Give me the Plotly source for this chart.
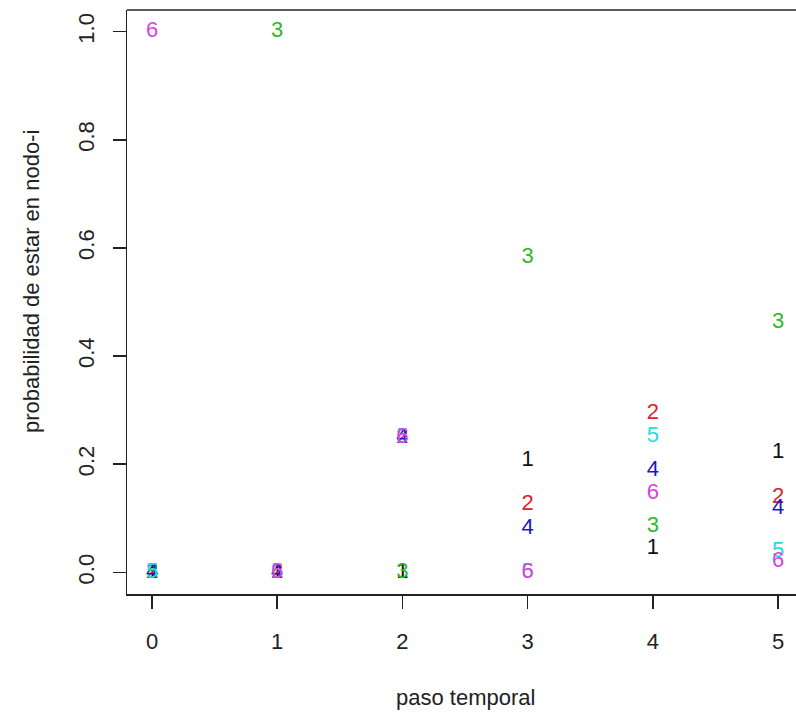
import plotly.graph_objects as go

# time steps
pasos = [0, 1, 2, 3, 4, 5]

# probability of being at each node, per time step
nodo1 = [0.0, 0.0, 0.0, 0.207, 0.044, 0.222]
nodo2 = [0.0, 0.0, 0.25, 0.126, 0.294, 0.139]
nodo3 = [0.0, 1.0, 0.0, 0.582, 0.085, 0.462]
nodo4 = [0.0, 0.0, 0.25, 0.081, 0.189, 0.118]
nodo5 = [0.0, 0.0, 0.25, 0.0, 0.251, 0.039]
nodo6 = [1.0, 0.0, 0.25, 0.0, 0.146, 0.020]

etiquetas = ["1", "2", "3", "4", "5", "6"]
colores = ["#111111", "#E02030", "#2EB82E", "#1A1AC0", "#22DDE0", "#DC40E0"]

x_ticks = [0, 1, 2, 3, 4, 5]
y_ticks = [0.0, 0.2, 0.4, 0.6, 0.8, 1.0]
y_ticklabels = ["0.0", "0.2", "0.4", "0.6", "0.8", "1.0"]

FONT = "Liberation Sans, Arial, Helvetica, sans-serif"
FS = 22

fig = go.Figure()
for lab, col, vals in zip(etiquetas, colores, [nodo1, nodo2, nodo3, nodo4, nodo5, nodo6]):
    fig.add_trace(go.Scatter(
        x=pasos, y=vals, mode="text", text=[lab] * len(pasos),
        textposition="middle center",
        textfont=dict(family=FONT, size=FS, color=col),
        showlegend=False, hoverinfo="skip", cliponaxis=False,
    ))

W, H = 796, 713
ml, mr, mt, mb = 127, 0, 10, 119
unit = 125.2
xr = [-0.2, -0.2 + (W - ml - mr) / unit]

fig.update_layout(
    width=W, height=H,
    margin=dict(l=ml, r=mr, t=mt, b=mb, pad=0),
    paper_bgcolor="white", plot_bgcolor="white",
    font=dict(family=FONT, size=FS, color="#222222"),
    xaxis=dict(
        range=xr, tickmode="array", tickvals=x_ticks,
        ticktext=[str(v) for v in x_ticks],
        showgrid=False, zeroline=False,
        showline=True, linecolor="#222222", linewidth=1.5,
        ticks="outside", ticklen=13, tickwidth=1.5, tickcolor="#222222",
        ticklabelstandoff=14,
        tickfont=dict(family=FONT, size=FS, color="#222222"),
    ),
    yaxis=dict(
        range=[-0.04, 1.04], tickmode="array", tickvals=y_ticks,
        ticktext=y_ticklabels, tickangle=-90,
        showgrid=False, zeroline=False,
        showline=True, linecolor="#222222", linewidth=1.5,
        ticks="outside", ticklen=13, tickwidth=1.5, tickcolor="#222222",
        ticklabelstandoff=10,
        tickfont=dict(family=FONT, size=FS, color="#222222"),
    ),
    shapes=[dict(type="line", xref="paper", yref="paper", x0=0, x1=1, y0=1, y1=1,
                 line=dict(color="#222222", width=1.5))],
    annotations=[
        dict(text="paso temporal", xref="paper", yref="paper",
             x=(465 - ml) / (W - ml - mr), y=-(697 - (H - mb)) / (H - mt - mb),
             xanchor="center", yanchor="middle", showarrow=False,
             font=dict(family=FONT, size=FS, color="#222222")),
        dict(text="probabilidad de estar en nodo-i", xref="paper", yref="paper",
             x=-(ml - 31) / (W - ml - mr), y=((H - mb) - 282) / (H - mt - mb),
             xanchor="center", yanchor="middle", textangle=-90, showarrow=False,
             font=dict(family=FONT, size=FS, color="#222222")),
    ],
)

fig.write_html(
    "out.html",
    config={"displayModeBar": False, "staticPlot": True},
    post_script="document.body.style.margin='0';document.body.style.overflow='hidden';",
)
